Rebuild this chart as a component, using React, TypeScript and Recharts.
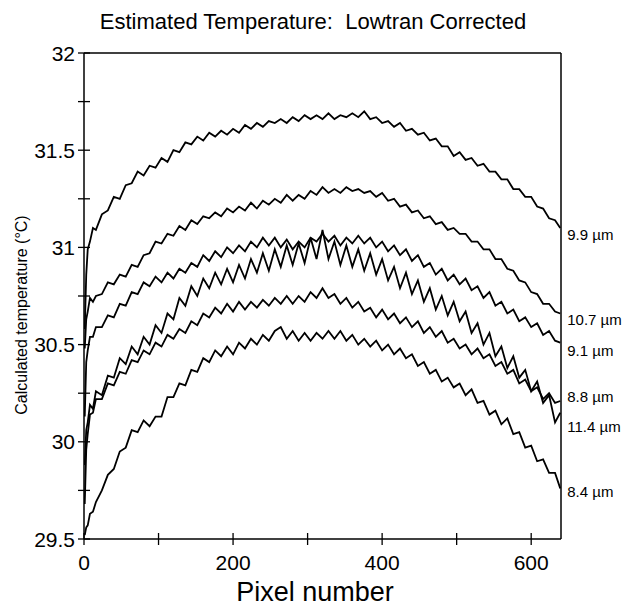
import { LabelList, Line, LineChart, ReferenceLine, XAxis, YAxis } from "recharts";

const FONT = '"Liberation Sans", Arial, Helvetica, sans-serif';

// pixel positions sampled along the detector row
const pixels = [
  1, 3, 5, 8, 12, 16, 24, 32, 40, 48, 56, 64, 72, 80, 88, 96, 104, 112, 120, 128, 136, 144, 152, 160, 168, 176,
  184, 192, 200, 208, 216, 224, 232, 240, 248, 256, 264, 272, 280, 288, 296, 304, 312, 320, 328, 336, 344, 352,
  360, 368, 376, 384, 392, 400, 408, 416, 424, 432, 440, 448, 456, 464, 472, 480, 488, 496, 504, 512, 520, 528,
  536, 544, 552, 560, 568, 576, 584, 592, 600, 608, 616, 624, 632, 639,
];

const band99 = [
  30.58, 30.86, 30.99, 31.03, 31.1, 31.09, 31.17, 31.19, 31.26, 31.25, 31.32, 31.33, 31.39, 31.37, 31.42, 31.41,
  31.46, 31.44, 31.5, 31.49, 31.54, 31.53, 31.57, 31.55, 31.59, 31.57, 31.6, 31.58, 31.61, 31.59, 31.63, 31.61,
  31.64, 31.62, 31.65, 31.64, 31.66, 31.64, 31.67, 31.65, 31.68, 31.66, 31.68, 31.66, 31.69, 31.66, 31.68, 31.67,
  31.69, 31.67, 31.7, 31.66, 31.67, 31.64, 31.65, 31.62, 31.64, 31.6, 31.61, 31.58, 31.59, 31.55, 31.56, 31.52,
  31.52, 31.47, 31.49, 31.45, 31.46, 31.42, 31.43, 31.39, 31.39, 31.35, 31.35, 31.3, 31.3, 31.26, 31.26, 31.21,
  31.2, 31.15, 31.14, 31.1,
];

const band107 = [
  30.48, 30.63, 30.67, 30.74, 30.72, 30.75, 30.76, 30.82, 30.81, 30.86, 30.85, 30.91, 30.9, 30.96, 30.97, 31.03,
  31.02, 31.07, 31.06, 31.11, 31.09, 31.14, 31.12, 31.16, 31.15, 31.18, 31.16, 31.2, 31.18, 31.21, 31.19, 31.23,
  31.2, 31.24, 31.22, 31.25, 31.23, 31.27, 31.24, 31.27, 31.25, 31.29, 31.27, 31.31, 31.28, 31.3, 31.28, 31.31,
  31.29, 31.3, 31.28, 31.29, 31.26, 31.28, 31.24, 31.25, 31.21, 31.22, 31.18, 31.19, 31.15, 31.16, 31.12, 31.13,
  31.09, 31.1, 31.07, 31.07, 31.03, 31.03, 30.99, 30.99, 30.94, 30.94, 30.89, 30.88, 30.83, 30.82, 30.77, 30.76,
  30.71, 30.71, 30.67, 30.66,
];

const band91 = [
  30.13, 30.41, 30.47, 30.54, 30.54, 30.59, 30.59, 30.65, 30.64, 30.71, 30.7, 30.77, 30.76, 30.82, 30.8, 30.85,
  30.82, 30.87, 30.84, 30.89, 30.87, 30.92, 30.9, 30.96, 30.93, 30.98, 30.95, 31.0, 30.97, 31.01, 30.98, 31.03,
  31.0, 31.05, 31.01, 31.05, 31.0, 31.04, 30.99, 31.03, 31.0, 31.05, 31.03, 31.07, 31.03, 31.06, 31.01, 31.05,
  31.02, 31.06, 31.02, 31.05, 31.0, 31.03, 30.98, 31.01, 30.96, 30.99, 30.93, 30.96, 30.9, 30.92, 30.86, 30.89,
  30.83, 30.86, 30.81, 30.84, 30.78, 30.8, 30.74, 30.77, 30.7, 30.72, 30.66, 30.68, 30.62, 30.64, 30.59, 30.61,
  30.55, 30.57, 30.52, 30.51,
];

const band88 = [
  29.68, 29.96, 30.04, 30.14, 30.15, 30.22, 30.22, 30.3, 30.29, 30.36, 30.35, 30.42, 30.41, 30.47, 30.45, 30.51,
  30.49, 30.55, 30.53, 30.58, 30.56, 30.62, 30.6, 30.66, 30.64, 30.69, 30.66, 30.71, 30.67, 30.72, 30.68, 30.72,
  30.69, 30.73, 30.7, 30.74, 30.71, 30.75, 30.71, 30.75, 30.72, 30.77, 30.74, 30.79, 30.74, 30.76, 30.71, 30.74,
  30.69, 30.72, 30.67, 30.69, 30.64, 30.68, 30.63, 30.66, 30.61, 30.64, 30.59, 30.62, 30.56, 30.59, 30.54, 30.57,
  30.51, 30.53, 30.48, 30.5, 30.45, 30.48, 30.43, 30.45, 30.39, 30.41, 30.35, 30.37, 30.3, 30.32, 30.26, 30.28,
  30.22, 30.25, 30.2, 30.21,
];

const band114 = [
  29.88, 30.06, 30.1, 30.19, 30.17, 30.26, 30.24, 30.34, 30.33, 30.43, 30.4, 30.49, 30.45, 30.54, 30.5, 30.6,
  30.56, 30.66, 30.63, 30.74, 30.7, 30.8, 30.75, 30.84, 30.79, 30.87, 30.81, 30.89, 30.82, 30.91, 30.84, 30.94,
  30.87, 30.97, 30.88, 30.99, 30.9, 31.01, 30.91, 31.02, 30.92, 31.05, 30.94, 31.09, 30.94, 31.03, 30.91, 31.01,
  30.9, 30.99, 30.88, 30.97, 30.86, 30.94, 30.83, 30.9, 30.79, 30.87, 30.76, 30.83, 30.72, 30.79, 30.68, 30.75,
  30.65, 30.72, 30.62, 30.67, 30.56, 30.61, 30.5, 30.56, 30.44, 30.49, 30.38, 30.44, 30.33, 30.37, 30.26, 30.31,
  30.2, 30.24, 30.1, 30.15,
];

const band84 = [
  29.52, 29.56, 29.57, 29.63, 29.64, 29.69, 29.75, 29.83, 29.86, 29.95, 29.97, 30.06, 30.05, 30.11, 30.08, 30.13,
  30.13, 30.23, 30.23, 30.3, 30.29, 30.37, 30.36, 30.43, 30.41, 30.47, 30.44, 30.49, 30.45, 30.51, 30.48, 30.53,
  30.5, 30.55, 30.52, 30.57, 30.59, 30.53, 30.57, 30.52, 30.56, 30.52, 30.56, 30.53, 30.57, 30.53, 30.57, 30.52,
  30.55, 30.5, 30.53, 30.49, 30.52, 30.47, 30.5, 30.45, 30.48, 30.43, 30.45, 30.39, 30.41, 30.35, 30.37, 30.31,
  30.33, 30.28, 30.3, 30.24, 30.27, 30.2, 30.21, 30.14, 30.16, 30.09, 30.12, 30.04, 30.05, 29.97, 29.98, 29.9,
  29.91, 29.84, 29.84, 29.76,
];

const tempTicks = [29.5, 29.75, 30, 30.25, 30.5, 30.75, 31, 31.25, 31.5, 31.75, 32];
const pixelTicks = [0, 100, 200, 300, 400, 500, 600];

const bands = [
  { key: "b99", label: "9.9 \u00b5m", values: band99, shift: 7 },
  { key: "b107", label: "10.7 \u00b5m", values: band107, shift: 7 },
  { key: "b91", label: "9.1 \u00b5m", values: band91, shift: 8 },
  { key: "b88", label: "8.8 \u00b5m", values: band88, shift: -4 },
  { key: "b114", label: "11.4 \u00b5m", values: band114, shift: 14 },
  { key: "b84", label: "8.4 \u00b5m", values: band84, shift: 4 },
];

const rows = pixels.map((pixel, i) => {
  const row: Record<string, number> = { pixel };
  bands.forEach((b) => {
    row[b.key] = b.values[i];
  });
  return row;
});

function TempTick(props: any) {
  const { x, y, payload } = props;
  const v = payload.value as number;
  const labelled = Number.isInteger(v * 2);
  return (
    <g>
      <line x1={x - 6} x2={x + 6} y1={y} y2={y} stroke="#000" strokeWidth={1.3} />
      {labelled && (
        <text x={x - 9} y={y} dy={7.5} textAnchor="end" fontSize={21} fontFamily={FONT} fill="#000">
          {String(v)}
        </text>
      )}
    </g>
  );
}

function PixelTick(props: any) {
  const { x, y, payload } = props;
  const v = payload.value as number;
  return (
    <g>
      <line x1={x} x2={x} y1={y - 6} y2={y + 6} stroke="#000" strokeWidth={1.3} />
      {v % 200 === 0 && (
        <text x={x} y={y + 31} textAnchor="middle" fontSize={21} fontFamily={FONT} fill="#000">
          {String(v)}
        </text>
      )}
    </g>
  );
}

function endLabel(text: string, shift: number) {
  return (props: any) => {
    if (props.index !== pixels.length - 1) return null;
    return (
      <text x={props.x + 7} y={props.y + shift} dy={5} fontSize={15} fontFamily={FONT} fill="#000">
        {text}
      </text>
    );
  };
}

export default function App() {
  return (
    <div style={{ position: "relative", width: 620, height: 593, background: "#fff", fontFamily: FONT }}>
      <div
        style={{
          position: "absolute",
          top: 2,
          left: 0,
          width: 610,
          textAlign: "center",
          fontSize: 22,
          lineHeight: "24px",
          whiteSpace: "pre",
        }}
      >
        {"Estimated Temperature:  Lowtran Corrected"}
      </div>
      <div
        style={{
          position: "absolute",
          left: 14 - 120,
          top: 307 - 10,
          width: 240,
          textAlign: "center",
          fontSize: 16,
          lineHeight: "20px",
          transform: "rotate(-90deg)",
          whiteSpace: "nowrap",
        }}
      >
        {"Calculated temperature (\u00b0C)"}
      </div>
      <div
        style={{
          position: "absolute",
          left: 157,
          top: 569,
          width: 300,
          textAlign: "center",
          fontSize: 27,
          lineHeight: "30px",
        }}
      >
        Pixel number
      </div>
      <LineChart width={620} height={593} data={rows} margin={{ top: 45, right: 67, bottom: 22, left: 20 }}>
        <XAxis
          dataKey="pixel"
          type="number"
          domain={[0, 640]}
          ticks={pixelTicks}
          tick={<PixelTick />}
          tickLine={false}
          tickSize={0}
          tickMargin={0}
          height={40}
          axisLine={{ stroke: "#000", strokeWidth: 1.5 }}
          allowDataOverflow
        />
        <YAxis
          type="number"
          domain={[29.5, 32]}
          ticks={tempTicks}
          tick={<TempTick />}
          tickLine={false}
          tickSize={0}
          tickMargin={0}
          width={56}
          axisLine={{ stroke: "#000", strokeWidth: 1.5 }}
          allowDataOverflow
        />
        <ReferenceLine y={32} stroke="#000" strokeWidth={1.5} />
        <ReferenceLine x={640} stroke="#000" strokeWidth={1.5} />
        {bands.map((b) => (
          <Line
            key={b.key}
            type="linear"
            dataKey={b.key}
            stroke="#000"
            strokeWidth={1.8}
            dot={false}
            isAnimationActive={false}
          >
            <LabelList dataKey={b.key} content={endLabel(b.label, b.shift)} />
          </Line>
        ))}
      </LineChart>
    </div>
  );
}
